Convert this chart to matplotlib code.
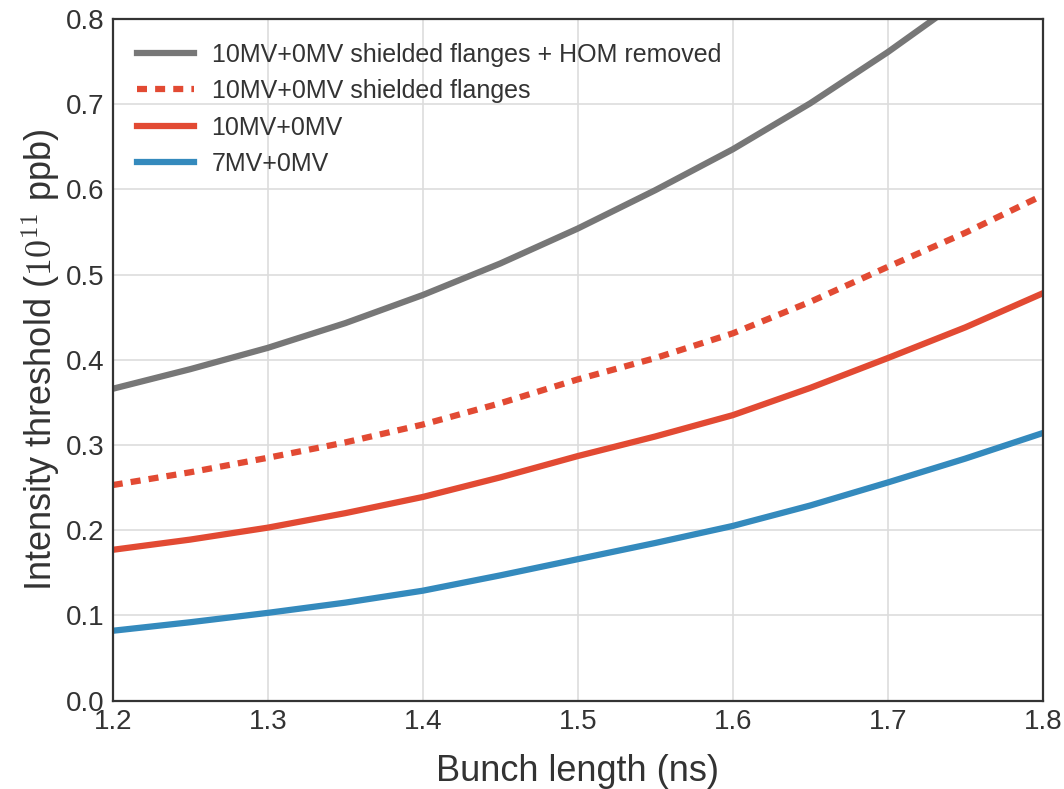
import numpy as np
import matplotlib
matplotlib.use("Agg")
import matplotlib.pyplot as plt

plt.rcParams['font.family'] = ['Liberation Sans', 'DejaVu Sans']
plt.rcParams['mathtext.fontset'] = 'cm'
plt.rcParams['text.color'] = '#333333'
plt.rcParams['axes.labelcolor'] = '#333333'
plt.rcParams['xtick.color'] = '#333333'
plt.rcParams['ytick.color'] = '#333333'

# bunch length (ns)
bunch_length = [1.20, 1.25, 1.30, 1.35, 1.40, 1.45, 1.50, 1.55, 1.60, 1.65, 1.70, 1.75, 1.80]

# intensity threshold (1e11 ppb)
hom_removed = [0.366, 0.389, 0.414, 0.443, 0.476, 0.513, 0.554, 0.599, 0.647, 0.701, 0.761, 0.826, 0.900]
shielded = [0.253, 0.268, 0.285, 0.303, 0.324, 0.349, 0.377, 0.402, 0.431, 0.468, 0.509, 0.549, 0.593]
mv10 = [0.177, 0.189, 0.203, 0.220, 0.239, 0.262, 0.287, 0.310, 0.335, 0.367, 0.402, 0.438, 0.478]
mv7 = [0.082, 0.092, 0.103, 0.115, 0.129, 0.147, 0.166, 0.185, 0.205, 0.229, 0.256, 0.284, 0.314]

labels = ["10MV+0MV shielded flanges + HOM removed",
          "10MV+0MV shielded flanges",
          "10MV+0MV",
          "7MV+0MV"]

fig = plt.figure(figsize=(10.64, 7.89), dpi=100)
ax = fig.add_axes([0.106, 0.112, 0.874, 0.864])

lw = 4.5
ax.plot(bunch_length, hom_removed, color='#777777', lw=lw, label=labels[0], solid_joinstyle='round')
ax.plot(bunch_length, shielded, color='#E24A33', lw=lw, ls=(0, (1.6, 1.3)), label=labels[1])
ax.plot(bunch_length, mv10, color='#E24A33', lw=lw, label=labels[2], solid_joinstyle='round')
ax.plot(bunch_length, mv7, color='#348ABD', lw=lw, label=labels[3], solid_joinstyle='round')

ax.set_xlim(1.2, 1.8)
ax.set_ylim(0.0, 0.8)
ax.set_xticks(np.arange(1.2, 1.81, 0.1))
ax.set_yticks(np.arange(0.0, 0.81, 0.1))
ax.set_xticklabels(["%.1f" % t for t in np.arange(1.2, 1.81, 0.1)])
ax.set_yticklabels(["%.1f" % t for t in np.arange(0.0, 0.81, 0.1)])
ax.tick_params(labelsize=20, length=0, pad=6)
ax.grid(True, color='#dddddd', lw=1.2)
ax.set_axisbelow(True)
for s in ax.spines.values():
    s.set_color('#333333')
    s.set_linewidth(1.6)

ax.set_xlabel("Bunch length (ns)", fontsize=26, labelpad=14)
ax.set_ylabel(r"Intensity threshold ($10^{11}$ ppb)", fontsize=26, labelpad=2)

leg = ax.legend(loc='upper left', fontsize=18, frameon=False, handlelength=2.3,
                handletextpad=0.7, borderaxespad=0.55, labelspacing=0.5)

fig.savefig("out.png", dpi=100)
